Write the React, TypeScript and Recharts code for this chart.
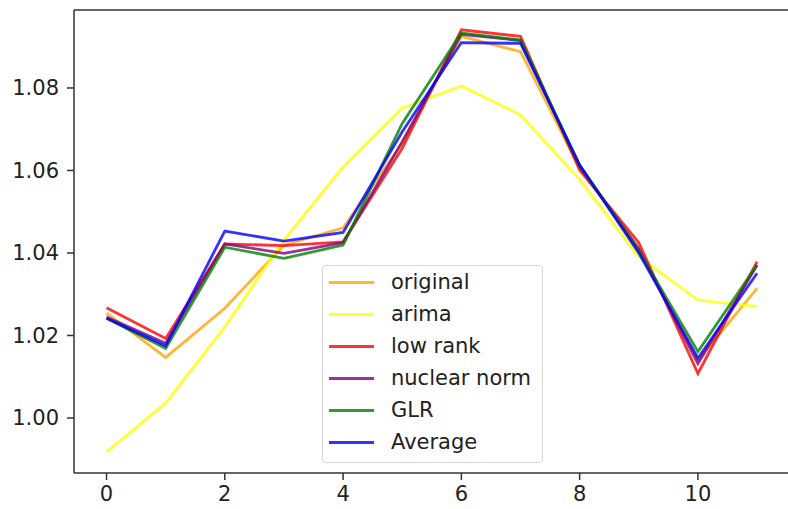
import { LineChart, Line, XAxis, YAxis, Legend, ReferenceLine } from "recharts";

const steps = [0, 1, 2, 3, 4, 5, 6, 7, 8, 9, 10, 11];
const original = [1.0254, 1.0147, 1.0266, 1.0419, 1.0461, 1.0666, 1.0925, 1.0888, 1.0606, 1.041, 1.014, 1.0314];
const arima = [0.9918, 1.0036, 1.0221, 1.0431, 1.0609, 1.0751, 1.0805, 1.0735, 1.0578, 1.0391, 1.0286, 1.027];
const lowRank = [1.0267, 1.0193, 1.0422, 1.0418, 1.0427, 1.0654, 1.0941, 1.0925, 1.0601, 1.0425, 1.0108, 1.0379];
const nuclearNorm = [1.0245, 1.0181, 1.0422, 1.0399, 1.0425, 1.067, 1.093, 1.0915, 1.061, 1.041, 1.0132, 1.037];
const glr = [1.0242, 1.0169, 1.0414, 1.0387, 1.0419, 1.0714, 1.0933, 1.0916, 1.0613, 1.0405, 1.0161, 1.0371];
const average = [1.0242, 1.0175, 1.0453, 1.0429, 1.045, 1.0694, 1.091, 1.0908, 1.0613, 1.04, 1.0145, 1.0351];

const xTicks = [0, 2, 4, 6, 8, 10];
const yTicks = [1.0, 1.02, 1.04, 1.06, 1.08];

const series = [
  { key: "original", label: "original", color: "orange", values: original },
  { key: "arima", label: "arima", color: "yellow", values: arima },
  { key: "lowRank", label: "low rank", color: "red", values: lowRank },
  { key: "nuclearNorm", label: "nuclear norm", color: "purple", values: nuclearNorm },
  { key: "glr", label: "GLR", color: "green", values: glr },
  { key: "average", label: "Average", color: "blue", values: average },
];

const data = steps.map((x, i) => {
  const row: Record<string, number> = { x };
  series.forEach((s) => (row[s.key] = s.values[i]));
  return row;
});

const FONT = "'DejaVu Sans', sans-serif";
const Y_MIN = 0.98667;
const Y_MAX = 1.0989;

function LegendBox() {
  return (
    <div
      style={{
        width: 219,
        height: 196,
        border: "1px solid #d6d6d6",
        borderRadius: 4,
        background: "rgba(255,255,255,0.8)",
        position: "relative",
        fontFamily: FONT,
        fontSize: 21,
        color: "#222",
      }}
    >
      {series.map((s, i) => (
        <div
          key={s.key}
          style={{ position: "absolute", left: 0, top: 0 + i * 32, height: 32, display: "flex", alignItems: "center" }}
        >
          <div style={{ marginLeft: 6, width: 45, height: 3, background: s.color, opacity: 0.8 }} />
          <span style={{ marginLeft: 17, whiteSpace: "nowrap" }}>{s.label}</span>
        </div>
      ))}
    </div>
  );
}

export default function App() {
  const tickStyle = { fill: "#222", fontSize: 21, fontFamily: FONT };
  return (
    <div style={{ position: "fixed", left: 0, top: 0, width: 788, height: 509, overflow: "hidden", background: "#fff" }}>
      <LineChart width={800} height={509} data={data} margin={{ top: 10, right: 10.4, bottom: 0, left: 0 }}>
        <XAxis
          dataKey="x"
          type="number"
          domain={[-0.55, 11.55]}
          ticks={xTicks}
          allowDataOverflow
          height={36}
          tick={tickStyle}
          tickSize={7}
          tickMargin={6}
          stroke="#333"
          strokeWidth={1.5}
        />
        <YAxis
          type="number"
          domain={[Y_MIN, Y_MAX]}
          ticks={yTicks}
          allowDataOverflow
          width={74}
          tick={tickStyle}
          tickSize={7}
          tickMargin={8}
          tickFormatter={(v: number) => v.toFixed(2)}
          stroke="#333"
          strokeWidth={1.5}
        />
        <ReferenceLine y={Y_MAX} stroke="#333" strokeWidth={1.5} ifOverflow="extendDomain" />
        {series.map((s) => (
          <Line
            key={s.key}
            dataKey={s.key}
            stroke={s.color}
            strokeOpacity={0.8}
            strokeWidth={2.8}
            dot={false}
            type="linear"
            isAnimationActive={false}
          />
        ))}
        <Legend
          layout="vertical"
          align="center"
          verticalAlign="middle"
          content={() => <LegendBox />}
          wrapperStyle={{ left: 322, top: 265, width: "auto", height: "auto" }}
        />
      </LineChart>
    </div>
  );
}
